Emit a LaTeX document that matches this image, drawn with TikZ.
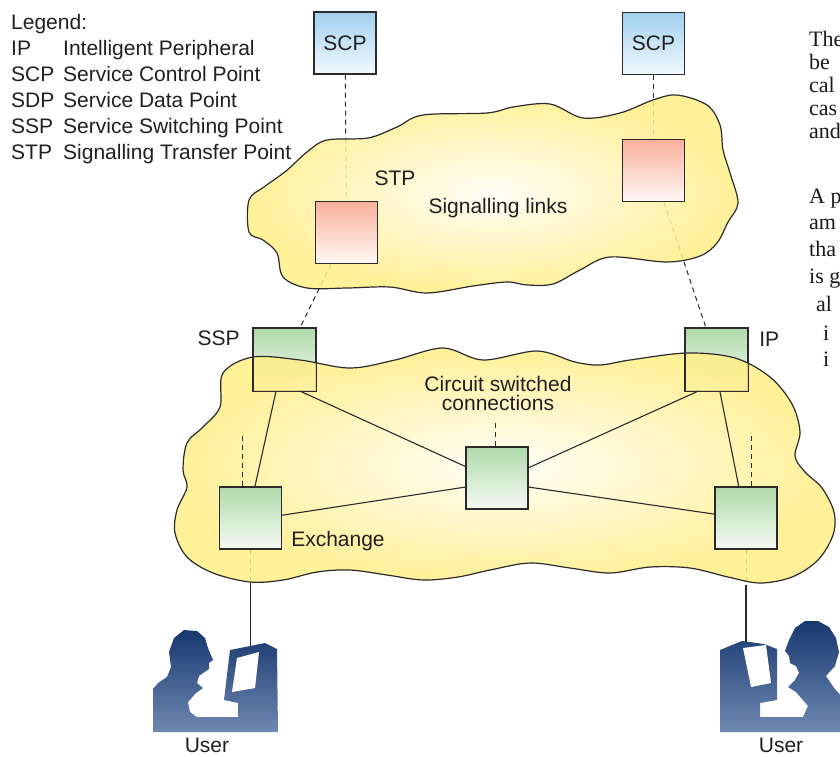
\documentclass[tikz,border=0pt]{standalone}
\usepackage{fontspec}
\setmainfont{Liberation Sans}
\newfontfamily\pagefont{Liberation Serif}
\usetikzlibrary{positioning,calc}

\definecolor{linec}{HTML}{2B2B2B}
\definecolor{txtc}{HTML}{231F20}
\definecolor{scptop}{HTML}{A2D0EF}
\definecolor{scpbot}{HTML}{F2F9FE}
\definecolor{stptop}{HTML}{F8B09A}
\definecolor{stpbot}{HTML}{FFF8F6}
\definecolor{swtop}{HTML}{B0DAAB}
\definecolor{swbot}{HTML}{F5FAF4}
\definecolor{cloudin}{HTML}{FFFEF6}
\definecolor{cloudout}{HTML}{FFEE86}
\definecolor{usertop}{HTML}{17376F}
\definecolor{userbot}{HTML}{7089B2}

\newcommand\labelfont{\fontsize{21}{26}\selectfont}

% links sit under the clouds, the edge switches half under them
\pgfdeclarelayer{links}
\pgfdeclarelayer{edge}
\pgfdeclarelayer{clouds}
\pgfsetlayers{links,edge,clouds,main}

\tikzset{
    nodebox/.style={draw=linec, line width=1.1pt, minimum size=62pt, inner sep=0pt, font=\labelfont, text=txtc},
    scpbox/.style={nodebox, top color=scptop, bottom color=scpbot},
    stpbox/.style={nodebox, top color=stptop, bottom color=stpbot},
    swbox/.style={nodebox, top color=swtop, bottom color=swbot},
    lbl/.style={inner sep=0pt, font=\labelfont, text=txtc},
    pagetxt/.style={inner sep=0pt, font=\pagefont\fontsize{22}{24}\selectfont, text=black!90},
    sig/.style={draw=linec, line width=1pt, dash pattern=on 5pt off 4pt},
    trunk/.style={draw=linec, line width=1.1pt},
    cloudfill/.style={draw=linec, line width=1.2pt, inner color=cloudin, outer color=cloudout, fill opacity=0.85},
    usericon/.style={top color=usertop, bottom color=userbot},
}

\begin{document}
\begin{tikzpicture}[x=1pt, y=-1pt]
    \useasboundingbox (0,0) rectangle (840,756);

    % legend
    \node[lbl, anchor=base west] (lgd) at (11,29) {Legend:};
    \foreach \abbr/\full [count=\i] in {IP/Intelligent Peripheral, SCP/Service Control Point,
            SDP/Service Data Point, SSP/Service Switching Point, STP/Signalling Transfer Point} {
        \node[lbl, anchor=base west] (lgd-a\i) at (11,{29+26*\i}) {\abbr};
        \node[lbl, anchor=base west] (lgd-f\i) at (63,{29+26*\i}) {\full};
    }

    % running text of the page
    \foreach \x/\y/\txt [count=\k] in {809/46/The, 809/69/be, 809/92/cal, 809/115/cas, 809/138/and,
            809/203/A p, 809/229/am, 809/256/tha, 809/283/is g, 816/311/al, 823/340/i, 823/366/i} {
        \node[pagetxt, anchor=base west] (pg\k) at (\x,\y) {\txt};
    }

    % signalling network
    \node[scpbox] (scpl) at (345,43) {SCP};
    \node[scpbox] (scpr) at (653.5,43.5) {SCP};
    \node[stpbox] (stpl) at (346.5,232.5) {};
    \node[stpbox] (stpr) at (653.5,170.5) {};

    % switching network
    \node[swbox] (exl) at (250.5,518) {};
    \node[swbox] (exc) at (497,478) {};
    \node[swbox] (exr) at (746,518) {};
    \begin{pgfonlayer}{edge}
        \node[swbox] (ssp) at (284.5,359.5) {};
        \node[swbox] (ip) at (716.5,359.5) {};
    \end{pgfonlayer}

    \coordinate (dropl) at ([yshift=-33pt]exl.south);
    \coordinate (userl) at ([yshift=-97pt]exl.south);
    \coordinate (dropr) at ([yshift=-35pt]exr.south);
    \coordinate (userr) at ([yshift=-92pt]exr.south);

    \begin{pgfonlayer}{links}
        \draw[sig] (scpl) -- (stpl);
        \draw[sig] (scpr) -- (stpr);
        \draw[sig] (stpl) -- (ssp);
        \draw[sig] (stpr) -- (ip);
        \draw[sig] (exl.south) -- (dropl);
        \draw[trunk] (dropl) -- (userl);
        \draw[sig] (exr.south) -- (dropr);
        \draw[trunk] (dropr) -- (userr);
    \end{pgfonlayer}

    \begin{pgfonlayer}{clouds}
        % signalling links
        \path[cloudfill] plot[smooth cycle, tension=0.55] coordinates {
            (249,200) (264,187) (286,171) (307,152) (327,140) (368,138) (397,127) (423,115)
            (487,113) (513,107) (550,104) (583,118) (620,113) (653,100) (677,95) (707,105)
            (720,125) (723,150) (730,173) (738,203) (728,222) (717,243) (700,256) (667,262)
            (610,257) (580,270) (553,284) (527,285) (507,282) (473,286) (427,293) (390,287)
            (347,288) (307,288) (283,277) (277,253) (263,240) (249,232)};
        % circuit switched connections
        \path[cloudfill] plot[smooth cycle, tension=0.55] coordinates {
            (253,357) (300,360) (350,368) (395,360) (443,348) (483,360) (537,351) (575,362)
            (600,365) (630,360) (687,353) (735,358) (770,377) (792,404) (800,432) (795,456)
            (805,472) (822,488) (834,512) (833,535) (818,560) (792,577) (760,583) (728,577)
            (690,568) (650,567) (610,573) (570,568) (530,563) (490,570) (458,577) (423,580)
            (387,575) (350,570) (317,572) (283,580) (250,582) (213,573) (187,557) (175,533)
            (177,510) (187,487) (183,470) (187,443) (203,427) (220,407) (223,373)};
    \end{pgfonlayer}

    \draw[draw=linec, line width=1.1pt] (ssp.south west) rectangle (ssp.north east);
    \draw[draw=linec, line width=1.1pt] (ip.south west) rectangle (ip.north east);

    \draw[trunk] (ssp.-105) -- (exl.82);
    \draw[trunk] (ssp.-64) -- (exc.160);
    \draw[trunk] (exl.5) -- (exc.-164);
    \draw[trunk] (exc.18) -- (ip.-120);
    \draw[trunk] (exc.-16) -- (exr.173);
    \draw[trunk] (ip.-84) -- (exr.103);

    % open ends into the rest of the network
    \coordinate (stubl) at ([xshift=-8pt, yshift=54pt]exl.north);
    \coordinate (stubc) at ([xshift=-2pt, yshift=24pt]exc.north);
    \coordinate (stubr) at ([xshift=5pt, yshift=54pt]exr.north);
    \draw[sig] ([xshift=-8pt]exl.north) -- (stubl);
    \draw[sig] ([xshift=-2pt]exc.north) -- (stubc);
    \draw[sig] ([xshift=5pt]exr.north) -- (stubr);

    % labels
    \node[lbl] (stplbl) at (395,178) {STP};
    \node[lbl] (siglbl) at (498,208) {Signalling links};
    \node[lbl, left=13pt of ssp.north west, yshift=-10pt] (ssplbl) {SSP};
    \node[lbl, right=11pt of ip.north east, yshift=-11pt] (iplbl) {IP};
    \node[lbl, anchor=base] (cslbl1) at (498,391) {Circuit switched};
    \node[lbl, anchor=base] (cslbl2) at (498,410) {connections};
    \node[lbl, right=9pt of exl.south east, yshift=8.5pt] (exlbl) {Exchange};

    % users at their terminals
    \shade[usericon] (153,732) -- (153,689) -- (158,683) -- (167,677) -- (171,667) -- (169,652)
        -- (174,638) -- (184,630) -- (197,631) -- (205,638) -- (208,648) -- (213,660) -- (209,663)
        -- (209,669) -- (203,673) -- (199,676) -- (197,683) -- (203,688) -- (196,693) -- (188,702)
        -- (190,712) -- (197,717) -- (238,717) -- (238,703) -- (224,700) -- (230,650) -- (265,643)
        -- (277,649) -- (278,732) -- cycle;
    \fill[white] (237,658) -- (259,652) -- (255,688) -- (232,692) -- cycle;
    \shade[usericon] (720,732) -- (720,650) -- (742,641) -- (764,644) -- (777,649) -- (777,700)
        -- (760,703) -- (760,717) -- (803,717) -- (808,706) -- (796,692) -- (788,687) -- (795,680)
        -- (799,673) -- (796,666) -- (790,663) -- (789,656) -- (785,651) -- (789,640) -- (795,628)
        -- (805,621) -- (818,621) -- (829,627) -- (836,638) -- (839,652) -- (835,666) -- (826,676)
        -- (834,688) -- (845,700) -- (845,732) -- cycle;
    \fill[white] (743,648) -- (766,645) -- (771,683) -- (751,687) -- cycle;
    \node[lbl, anchor=base] (usrl) at (207,752) {User};
    \node[lbl, anchor=base] (usrr) at (781,752) {User};
\end{tikzpicture}
\end{document}
